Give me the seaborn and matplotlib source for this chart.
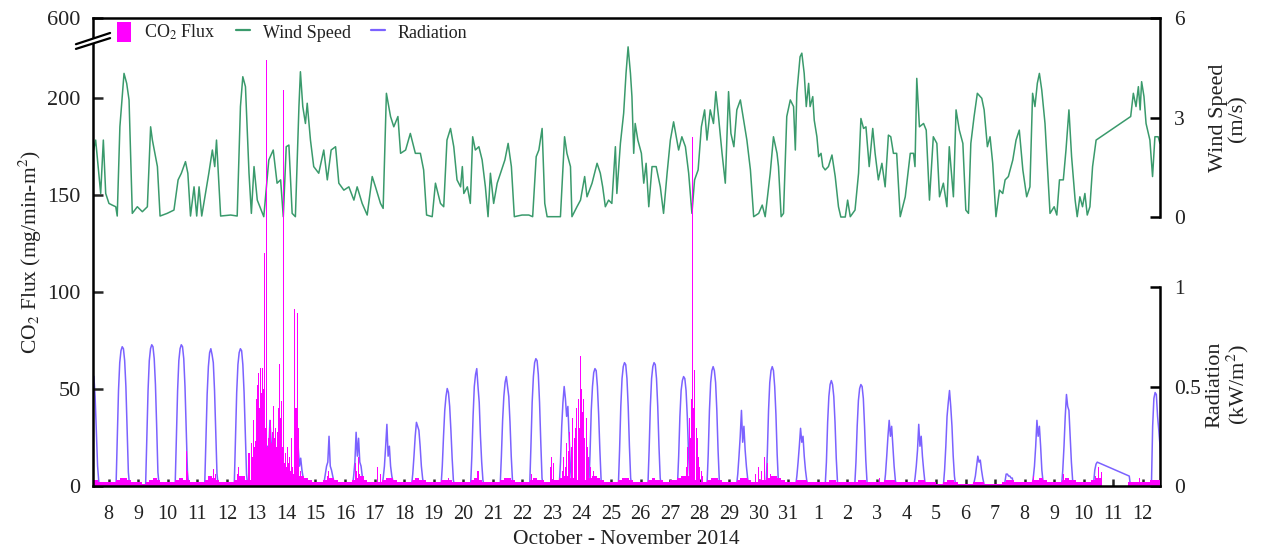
import numpy as np
import matplotlib
matplotlib.use("Agg")
import matplotlib.pyplot as plt
import seaborn as sns
from matplotlib.patches import Patch, Polygon
from matplotlib.lines import Line2D

sns.set_theme(style="white")
plt.rcParams['font.family'] = ['Liberation Serif', 'DejaVu Serif']
plt.rcParams['mathtext.fontset'] = 'stix'

# ---------------- data ----------------
# x axis: days counted from 8 October 2014 00:00 (0 = Oct 8, 35 = Nov 12)
day_labels = [str(d) for d in range(8, 32)] + [str(d) for d in range(1, 13)]
day_ticks = list(range(0, 36))

wind_day = [-0.51, -0.44, -0.27, -0.18, -0.10, 0.01, 0.12, 0.24, 0.29, 0.38, 0.52, 0.61, 0.69, 0.80, 0.97, 1.14, 1.31, 1.42, 1.48, 1.65, 1.74, 1.98, 2.21, 2.35, 2.46, 2.60, 2.68, 2.77, 2.89, 2.98, 3.06, 3.15, 3.39, 3.51, 3.59, 3.65, 3.79, 4.13, 4.35, 4.46, 4.54, 4.63, 4.75, 4.83, 4.92, 5.03, 5.25, 5.42, 5.57, 5.70, 5.82, 5.91, 6.01, 6.10, 6.21, 6.32, 6.44, 6.49, 6.57, 6.66, 6.72, 6.83, 6.94, 7.11, 7.28, 7.40, 7.53, 7.68, 7.79, 7.96, 8.13, 8.30, 8.41, 8.58, 8.75, 8.92, 9.03, 9.20, 9.29, 9.40, 9.54, 9.65, 9.79, 9.88, 10.05, 10.21, 10.38, 10.55, 10.66, 10.76, 10.95, 11.06, 11.23, 11.34, 11.45, 11.57,
            11.68, 11.79, 11.91, 11.97, 12.02, 12.14, 12.24, 12.32, 12.41, 12.53, 12.64, 12.75, 12.84, 12.92, 13.03, 13.15, 13.26, 13.41, 13.52, 13.63, 13.73, 13.99, 14.22, 14.35, 14.47, 14.56, 14.67, 14.76, 14.84, 15.12, 15.29, 15.43, 15.51, 15.63, 15.68, 15.85, 15.97, 16.11, 16.19, 16.36, 16.53, 16.64, 16.72, 16.81, 16.92, 17.03, 17.15, 17.20, 17.32, 17.43, 17.51, 17.58, 17.66, 17.71, 17.77, 17.82, 17.91, 18.03, 18.11, 18.19, 18.28, 18.39, 18.53, 18.67, 18.78, 18.90, 19.01, 19.12, 19.23, 19.29, 19.40, 19.52, 19.63, 19.74, 19.83, 19.95, 20.06, 20.17, 20.25, 20.36, 20.47, 20.55, 20.64, 20.76, 20.87, 20.98, 21.06, 21.16, 21.26, 21.38, 21.49, 21.60, 21.72, 21.83, 22.00, 22.12, 22.22, 22.39, 22.50, 22.62, 22.67, 22.76, 22.84, 22.95, 23.07, 23.18, 23.24, 23.29,
            23.40, 23.46, 23.54, 23.61, 23.69, 23.74, 23.83, 23.88, 23.97, 24.03, 24.11, 24.17, 24.25, 24.36, 24.48, 24.59, 24.70, 24.78, 24.93, 25.01, 25.10, 25.26, 25.38, 25.46, 25.55, 25.63, 25.74, 25.86, 25.94, 26.05, 26.17, 26.28, 26.39, 26.47, 26.56, 26.67, 26.79, 26.96, 27.13, 27.24, 27.29, 27.35, 27.44, 27.58, 27.67, 27.78, 27.91, 28.03, 28.12, 28.25, 28.37, 28.45, 28.59, 28.68, 28.79, 28.91, 29.01, 29.10, 29.18, 29.29, 29.40, 29.55, 29.63, 29.74, 29.83, 29.92, 30.03, 30.15, 30.26, 30.34, 30.45, 30.60, 30.71, 30.82, 30.94, 31.07, 31.18, 31.27, 31.35, 31.43, 31.50, 31.58, 31.69, 31.77, 31.86, 32.00, 32.09, 32.18, 32.31, 32.40, 32.50, 32.59, 32.71, 32.78, 32.87, 32.96, 33.04, 33.12, 33.21, 33.30, 33.42, 34.59, 34.68, 34.77, 34.85, 34.91, 34.96, 35.04, 35.11, 35.19, 35.24, 35.33, 35.41, 35.52, 35.58]
wind_ms = [2.02, 2.32, 0.71, 2.32, 0.71, 0.41, 0.36, 0.31, 0.03, 2.72, 4.33, 4.03, 3.53, 0.11, 0.31, 0.16, 0.31, 2.72, 2.32, 1.52, 0.03, 0.11, 0.21, 1.12, 1.32, 1.67, 1.32, 0.03, 0.91, 0.03, 0.91, 0.03, 1.32, 2.02, 1.52, 2.32, 0.03, 0.06, 0.03, 3.33, 4.23, 3.93, 1.32, 0.11, 1.52, 0.51, 0.01, 1.72, 2.02, 1.02, 1.12, 0.01, 2.12, 2.17, 0.11, 0.01, 3.33, 4.38, 3.33, 2.82, 3.43, 2.32, 1.52, 1.32, 2.02, 1.12, 2.02, 2.12, 1.02, 0.81, 0.91, 0.51, 0.91, 0.41, 0.06, 1.22, 0.91, 0.41, 0.26, 3.73, 3.03, 2.72, 3.03, 1.92, 2.02, 2.52, 1.92, 1.92, 1.42, 0.06, 0.01, 1.02, 0.41, 0.31, 2.32, 2.67,
           2.12, 1.12, 0.91, 1.52, 0.71, 0.91, 0.41, 2.42, 2.02, 2.12, 1.72, 0.91, 0.01, 1.32, 0.41, 1.02, 1.32, 1.72, 2.22, 1.52, 0.01, 0.06, 0.06, 0.01, 1.82, 2.02, 2.67, 0.41, 0.01, 0.01, 0.01, 2.42, 1.92, 1.52, 0.01, 0.31, 0.51, 1.22, 0.61, 1.02, 1.62, 1.32, 0.91, 0.31, 0.51, 0.41, 2.12, 0.71, 2.22, 3.13, 4.33, 5.13, 4.33, 3.63, 1.92, 2.82, 2.32, 1.92, 1.02, 1.62, 0.31, 1.52, 1.52, 0.91, 0.11, 1.32, 2.32, 2.87, 2.32, 2.02, 2.42, 2.12, 1.32, 0.11, 1.12, 1.42, 2.72, 3.23, 2.32, 3.23, 2.82, 3.78, 3.03, 1.92, 1.02, 3.78, 2.52, 2.12, 3.23, 3.53, 2.92, 2.32, 1.42, 0.01, 0.11, 0.36, 0.01, 1.32, 2.42, 1.92, 1.52, 0.01, 0.11, 3.03, 3.53, 3.33, 2.02, 3.73,
           4.83, 4.94, 4.33, 3.33, 4.03, 3.33, 3.63, 2.92, 2.42, 1.82, 1.92, 1.52, 1.42, 1.52, 1.87, 1.22, 0.31, 0.0, 0.0, 0.51, 0.01, 0.21, 1.32, 2.97, 2.67, 2.72, 1.52, 2.67, 1.92, 1.12, 1.62, 0.91, 2.47, 2.42, 1.92, 1.92, 0.01, 0.61, 1.92, 1.92, 1.52, 4.18, 2.72, 2.82, 2.62, 0.51, 2.42, 2.22, 0.61, 1.02, 0.31, 2.12, 0.61, 3.23, 2.62, 2.22, 0.21, 0.11, 2.22, 3.03, 3.73, 3.58, 3.23, 2.12, 2.42, 1.62, 0.01, 0.81, 0.71, 1.12, 1.22, 1.72, 2.32, 2.62, 1.42, 0.61, 0.91, 3.73, 3.33, 4.03, 4.33, 3.83, 2.82, 1.52, 0.11, 0.31, 0.06, 1.12, 1.12, 2.02, 3.23, 1.82, 0.51, 0.01, 0.61, 0.31, 0.71, 0.06, 0.31, 1.52, 2.32, 3.03, 3.73, 3.33, 3.93, 3.23, 4.08, 3.63, 2.82, 2.52, 2.32, 1.22, 2.42, 2.42, 2.22]

# radiation (kW/m2), one row per day (Oct 7 ... Nov 12) at the hours below; None = no record
rad_hours = [6, 7, 8, 9, 10, 11, 12, 13, 14, 15, 16, 17]
rad_days = list(range(-1, 36))
rad_rows = [
    [0, 0.20, 0.38, 0.48, 0.54, 0.56, 0.55, 0.45, 0.28, 0.10, 0.02, 0],      # Oct 7
    [0, 0.25, 0.48, 0.62, 0.68, 0.70, 0.69, 0.63, 0.50, 0.29, 0.07, 0],      # Oct 8
    [0, 0.25, 0.48, 0.63, 0.69, 0.71, 0.70, 0.64, 0.51, 0.30, 0.07, 0],
    [0, 0.24, 0.48, 0.63, 0.69, 0.71, 0.70, 0.64, 0.50, 0.29, 0.07, 0],
    [0, 0.23, 0.46, 0.60, 0.67, 0.69, 0.66, 0.62, 0.48, 0.27, 0.06, 0],
    [0, 0.24, 0.47, 0.61, 0.67, 0.69, 0.68, 0.61, 0.47, 0.27, 0.06, 0],      # Oct 12
    [0, 0.05, 0.12, 0.20, 0.16, 0.33, 0.22, 0.15, 0.20, 0.08, 0.02, 0],
    [0, 0.03, 0.08, 0.12, 0.19, 0.10, 0.14, 0.08, 0.04, 0.02, 0, 0],
    [0, 0.02, 0.06, 0.10, 0.12, 0.25, 0.10, 0.08, 0.05, 0.02, 0, 0],
    [0, 0.05, 0.12, 0.27, 0.15, 0.24, 0.12, 0.10, 0.05, 0.02, 0, 0],         # Oct 16
    [0, 0.04, 0.10, 0.20, 0.31, 0.15, 0.20, 0.10, 0.05, 0.02, 0, 0],
    [0, 0.06, 0.15, 0.25, 0.32, 0.30, 0.28, 0.20, 0.10, 0.04, 0, 0],
    [0, 0.10, 0.25, 0.38, 0.45, 0.49, 0.47, 0.40, 0.28, 0.14, 0.03, 0],
    [0, 0.15, 0.35, 0.50, 0.56, 0.59, 0.50, 0.42, 0.25, 0.12, 0.03, 0],      # Oct 20
    [0, 0.15, 0.33, 0.45, 0.52, 0.55, 0.50, 0.45, 0.32, 0.15, 0.03, 0],
    [0, 0.20, 0.42, 0.55, 0.62, 0.64, 0.63, 0.56, 0.42, 0.22, 0.04, 0],
    [0, 0.12, 0.30, 0.42, 0.50, 0.44, 0.35, 0.40, 0.25, 0.10, 0.02, 0],
    [0, 0.16, 0.38, 0.50, 0.57, 0.59, 0.58, 0.50, 0.36, 0.18, 0.03, 0],      # Oct 24
    [0, 0.18, 0.40, 0.54, 0.60, 0.62, 0.61, 0.54, 0.40, 0.20, 0.04, 0],
    [0, 0.18, 0.40, 0.54, 0.60, 0.62, 0.61, 0.54, 0.40, 0.20, 0.04, 0],
    [0, 0.15, 0.35, 0.48, 0.53, 0.55, 0.54, 0.48, 0.35, 0.17, 0.03, 0],
    [0, 0.16, 0.38, 0.52, 0.58, 0.60, 0.58, 0.52, 0.38, 0.18, 0.03, 0],      # Oct 28
    [0, 0.06, 0.15, 0.25, 0.38, 0.22, 0.30, 0.18, 0.10, 0.04, 0, 0],
    [0, 0.16, 0.38, 0.52, 0.58, 0.60, 0.58, 0.50, 0.36, 0.16, 0.02, 0],
    [0, 0.05, 0.12, 0.20, 0.29, 0.22, 0.25, 0.15, 0.08, 0.03, 0, 0],
    [0, 0.12, 0.32, 0.45, 0.51, 0.53, 0.51, 0.45, 0.32, 0.14, 0.02, 0],      # Nov 1
    [0, 0.12, 0.30, 0.43, 0.49, 0.51, 0.50, 0.44, 0.30, 0.13, 0.02, 0],
    [0, 0.06, 0.15, 0.25, 0.33, 0.25, 0.30, 0.20, 0.10, 0.03, 0, 0],
    [0, 0.04, 0.10, 0.18, 0.31, 0.20, 0.25, 0.15, 0.08, 0.02, 0, 0],
    [0, 0.08, 0.20, 0.35, 0.42, 0.48, 0.40, 0.30, 0.15, 0.05, 0, 0],         # Nov 5
    [0, 0.02, 0.05, 0.10, 0.15, 0.12, 0.13, 0.08, 0.04, 0.01, 0, 0],
    [0, 0.0, 0.02, 0.06, 0.06, 0.05, 0.05, 0.04, 0.04, 0.0, 0, 0],
    [0, 0.04, 0.10, 0.20, 0.33, 0.25, 0.30, 0.20, 0.08, 0.02, 0, 0],
    [0, 0.08, 0.20, 0.35, 0.46, 0.40, 0.38, 0.25, 0.12, 0.03, 0, 0],         # Nov 9
    [0, 0, 0.01, 0.08, 0.11, 0.12, None, None, None, None, None, None],     # Nov 10
    [None, None, None, None, None, None, None, 0.05, 0, 0, 0, 0],           # Nov 11
    [0, 0, 0.30, 0.44, 0.47, 0.46, 0.35, 0.28, 0.20, 0.08, 0, 0],           # Nov 12
]

# CO2 flux (mg/min-m2): 3-hourly background values, one row per day (Oct 7 ... Nov 12)
co2_base_hours = [1.5, 4.5, 7.5, 10.5, 13.5, 16.5, 19.5, 22.5]
co2_base_rows = [
    [2, 2, 3, 4, 3, 2, 2, 2], [2, 2, 3, 4, 4, 3, 2, 2], [2, 1, 2, 3, 4, 3, 2, 2],
    [2, 2, 3, 4, 3, 3, 2, 2], [2, 2, 3, 5, 4, 3, 2, 2], [2, 2, 3, 5, 5, 3, 3, 3],
    [3, 3, 4, 6, 5, 4, 3, 3], [3, 3, 4, 5, 5, 4, 3, 2], [2, 2, 3, 4, 4, 3, 2, 2],
    [2, 2, 3, 4, 5, 3, 2, 2], [2, 2, 3, 4, 4, 3, 2, 2], [2, 2, 3, 4, 3, 3, 2, 2],
    [2, 2, 3, 3, 3, 2, 2, 2], [2, 2, 3, 4, 3, 2, 2, 2], [2, 2, 3, 4, 4, 3, 2, 2],
    [2, 2, 3, 4, 3, 3, 2, 2], [3, 3, 4, 5, 5, 4, 3, 3], [3, 3, 4, 5, 4, 3, 2, 2],
    [2, 2, 3, 4, 4, 3, 2, 2], [2, 2, 3, 4, 3, 3, 2, 2], [3, 3, 4, 5, 5, 4, 3, 2],
    [2, 2, 3, 4, 4, 3, 2, 2], [2, 2, 3, 4, 4, 3, 2, 2], [3, 3, 4, 5, 5, 4, 3, 2],
    [2, 2, 3, 3, 3, 2, 2, 2], [2, 2, 2, 3, 3, 2, 2, 2], [2, 2, 2, 3, 3, 2, 2, 2],
    [2, 2, 3, 3, 3, 2, 2, 2], [2, 2, 2, 3, 3, 2, 2, 2], [1, 1, 2, 3, 3, 2, 1, 1],
    [1, 1, 2, 2, 2, 1, 1, 1], [1, 1, 2, 3, 3, 2, 2, 2], [2, 2, 3, 3, 4, 3, 2, 2],
    [2, 2, 3, 4, 3, 3, 2, 2], [2, 2, 3, 4, 4, 0, 0, 0], [0, 0, 0, 0, 2, 2, 2, 2],
    [2, 2, 3, 3, 3, 2, 2, 2],
]

# CO2 flux episodes (day, value)
co2_day = [2.62, 2.66, 3.55, 3.60, 4.35, 4.40, 4.45,
           4.72, 4.75, 4.78, 4.82, 4.86, 4.89, 4.91, 4.95, 4.98, 5.02, 5.05, 5.08, 5.11, 5.14, 5.17, 5.20, 5.23, 5.25, 5.28, 5.31, 5.34, 5.37, 5.40, 5.42, 5.45, 5.48, 5.51, 5.54, 5.57, 5.59, 5.62, 5.65, 5.68, 5.70, 5.73, 5.76, 5.79, 5.82, 5.84, 5.87, 5.91, 5.94, 5.97, 5.99, 6.02, 6.04, 6.08, 6.12, 6.15, 6.18, 6.22, 6.26, 6.30, 6.34, 6.38, 6.41, 6.44, 6.48, 6.55,
           7.40, 7.45, 8.35, 8.40, 8.45, 8.50, 9.10, 9.20, 11.50, 12.50, 14.30, 14.95, 15.00, 15.05,
           15.35, 15.40, 15.45, 15.50, 15.55, 15.60, 15.65, 15.70, 15.75, 15.80, 15.85, 15.90, 15.93, 15.96, 15.99, 16.02, 16.05, 16.08, 16.12, 16.16, 16.20, 16.25, 16.30, 16.40, 16.50,
           19.55, 19.60, 19.65, 19.70, 19.74, 19.77, 19.80, 19.84, 19.88, 19.92, 19.96, 20.00, 20.05, 20.10,
           21.90, 22.00, 22.10, 22.20, 22.30, 22.40, 26.10, 31.30, 32.30, 33.40, 33.50, 33.60, 34.90]
co2_val = [18, 8, 9, 6, 6, 10, 5,
           10, 17, 12, 22, 15, 28, 34, 20, 23, 45, 52, 58, 40, 61, 48, 61, 38, 50, 120, 30, 390, 20, 15, 25, 30, 34, 22, 28, 35, 41, 25, 30, 20, 17, 28, 40, 63, 35, 44, 20, 240, 12, 15, 17, 10, 20, 12, 15, 8, 25, 10, 6, 91, 40, 89, 30, 15, 8, 5,
           5, 8, 12, 8, 15, 6, 10, 6, 4, 8, 6, 10, 15, 12,
           8, 15, 10, 22, 18, 28, 20, 35, 25, 30, 40, 45, 30, 67, 50, 38, 30, 45, 25, 35, 20, 15, 10, 8, 5,
           10, 20, 35, 25, 45, 180, 40, 60, 30, 25, 15, 10, 8, 5,
           6, 10, 8, 15, 12, 6, 4, 5, 6, 5, 10, 7, 4]

# ---------------- figure ----------------
GREEN = '#3a9a6c'
PURPLE = '#7b62ff'
MAGENTA = '#ff00ff'
TXT = '#222222'
BRK = 0.103  # compression above the axis break (200 -> 600)


def fwd(v):
    v = np.asarray(v, dtype=float)
    return np.where(v <= 200, v, 200 + (v - 200) * BRK)


def inv(t):
    t = np.asarray(t, dtype=float)
    return np.where(t <= 200, t, 200 + (t - 200) / BRK)


fig = plt.figure(figsize=(12.67, 5.54), dpi=100)
ax = fig.add_axes([0.0734, 0.1227, 0.8421, 0.8448])
axw = ax.twinx()
axr = ax.twinx()

rad_t, rad_v = [], []
for d, row in zip(rad_days, rad_rows):
    for h, v in zip(rad_hours, row):
        if v is not None:
            rad_t.append(d + h / 24.0)
            rad_v.append(v)

sns.lineplot(x=rad_t, y=rad_v, ax=axr, color=PURPLE, linewidth=1.1, estimator=None, sort=False)
sns.lineplot(x=wind_day, y=wind_ms, ax=axw, color=GREEN, linewidth=1.1, estimator=None, sort=False)

base_t, base_v = [], []
for d, row in zip(rad_days, co2_base_rows):
    for h, v in zip(co2_base_hours, row):
        base_t.append(d + h / 24.0)
        base_v.append(v)
ax.bar(base_t, base_v, width=0.125, color=MAGENTA, linewidth=0)
ax.bar(co2_day, co2_val, width=0.035, color=MAGENTA, linewidth=0)

ax.set_yscale('function', functions=(fwd, inv))
ax.set_ylim(0, 600)
ax.set_yticks([0, 50, 100, 150, 200, 600])
ax.set_yticklabels(['0', '50', '100', '150', '200', '600'])
ax.set_xlim(-0.53, 35.58)
ax.set_xticks(day_ticks)
ax.set_xticklabels(day_labels)

axw.set_ylim(-8.11, 6)
axw.set_yticks([0, 3, 6])
axr.set_ylim(0, 2.352)
axr.set_yticks([0, 0.5, 1])
axr.set_yticklabels(['0', '0.5', '1'])
for a in (axw, axr):
    a.set_xlabel('')
    a.set_ylabel('')

ax.set_zorder(axr.get_zorder() + 2)
ax.patch.set_visible(False)

for sp in ['left', 'top', 'bottom']:
    ax.spines[sp].set_color('black')
    ax.spines[sp].set_linewidth(1.8)
ax.spines['right'].set_visible(False)
for a, bounds in ((axw, (0, 6)), (axr, (0, 1))):
    for sp in ['left', 'top', 'bottom']:
        a.spines[sp].set_visible(False)
    a.spines['right'].set_color('black')
    a.spines['right'].set_linewidth(1.8)
    a.spines['right'].set_bounds(*bounds)
    a.tick_params(axis='y', direction='in', length=7, width=1.8, labelsize=15.5, pad=10, colors='black', labelcolor=TXT)
    a.tick_params(axis='x', which='both', bottom=False, top=False, labelbottom=False)

ax.tick_params(axis='y', direction='in', length=7, width=1.8, labelsize=16, pad=9, left=True, labelcolor=TXT)
ax.tick_params(axis='x', direction='in', length=5, width=1.8, labelsize=14.5, pad=14, bottom=True, labelcolor=TXT)

ax.set_ylabel('CO$_2$ Flux (mg/min-m$^2$)', fontsize=15.5, color=TXT)
ax.yaxis.set_label_coords(-0.046, 0.5)
ax.set_xlabel('October - November 2014', fontsize=15.5, color=TXT)
ax.xaxis.set_label_coords(0.5, -0.095)
fig.text(0.9695, 0.786 * 0.8448 + 0.1227, 'Wind Speed\n(m/s)', rotation=90, ha='center', va='center',
         fontsize=16, color=TXT, linespacing=1.05)
fig.text(0.9695, 0.216 * 0.8448 + 0.1227, 'Radiation\n(kW/m$^2$)', rotation=90, ha='center', va='center',
         fontsize=16, color=TXT, linespacing=1.05)

# axis break marks on the left spine
brk_lo = [(-0.016, 0.934), (0.016, 0.957)]
brk_hi = [(-0.016, 0.944), (0.016, 0.968)]
ax.add_patch(Polygon([brk_lo[0], brk_lo[1], brk_hi[1], brk_hi[0]], closed=True, transform=ax.transAxes,
                     facecolor='white', edgecolor='none', clip_on=False, zorder=5))
for seg in (brk_lo, brk_hi):
    ax.add_line(Line2D([seg[0][0], seg[1][0]], [seg[0][1], seg[1][1]], transform=ax.transAxes,
                       color='black', linewidth=1.6, clip_on=False, zorder=6))

handles = [Patch(facecolor=MAGENTA, edgecolor='none'),
           Line2D([], [], color=GREEN, linewidth=1.6),
           Line2D([], [], color=PURPLE, linewidth=1.6)]
labels = ['CO$_2$ Flux', 'Wind Speed', 'Radiation']
leg = ax.legend(handles, labels, loc='upper left', bbox_to_anchor=(0.0225, 0.992), ncol=3, frameon=False,
                fontsize=13, handlelength=0.8, handleheight=1.35, handletextpad=0.7, columnspacing=1.1,
                borderaxespad=0, borderpad=0)
for t in leg.get_texts():
    t.set_color(TXT)

fig.savefig('out.png', dpi=100)
